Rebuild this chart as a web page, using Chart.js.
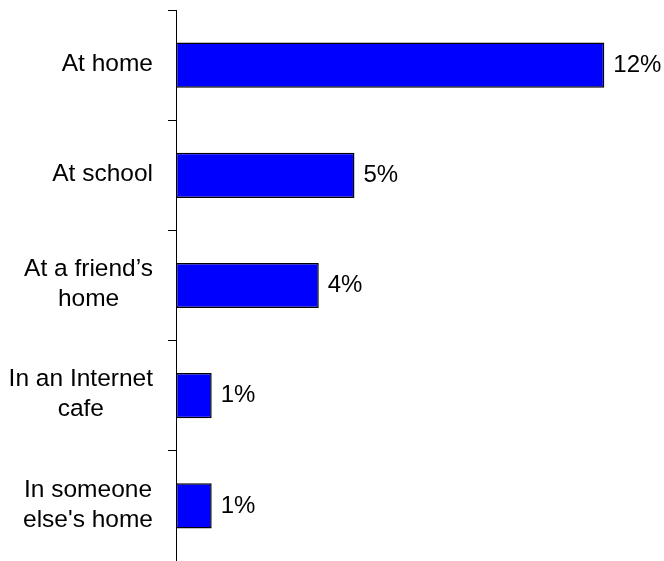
<!DOCTYPE html>
<html>
<head>
<meta charset="utf-8">
<title>Where kids go online</title>
<script src="https://cdn.jsdelivr.net/npm/chart.js@4.4.0/dist/chart.umd.min.js"></script>
<style>
    body { margin: 0; background: #fff; }
    #wrap { width: 664px; height: 561px; }
</style>
</head>
<body>
<div id="wrap"><canvas id="placesChart" width="664" height="561"></canvas></div>
<script>
// categories, one entry per line of the label
const places = [
    ['At home'],
    ['At school'],
    ['At a friend\u2019s', 'home'],
    ['In an Internet', 'cafe'],
    ['In someone', 'else\'s home']
]
const shares = [12, 5, 4, 1, 1]
const xRange = [0, 13]

const fontFamily = '"Liberation Sans", Arial, Helvetica, sans-serif'

// category names drawn left of the axis, each block right-aligned, lines centred in it
const placeLabels = {
    id: 'placeLabels',
    afterDraw(chart) {
        const ctx = chart.ctx
        const yScale = chart.scales.y
        const right = yScale.right - 23
        ctx.save()
        ctx.font = '24.5px ' + fontFamily
        ctx.fillStyle = '#000'
        ctx.textAlign = 'center'
        ctx.textBaseline = 'middle'
        places.forEach((lines, i) => {
            const widest = Math.max(...lines.map(l => ctx.measureText(l).width))
            const cx = right - widest / 2
            const y = yScale.getPixelForValue(i) - 1
            lines.forEach((line, j) => {
                ctx.fillText(line, cx, y + (j - (lines.length - 1) / 2) * 30)
            })
        })
        ctx.restore()
    }
}

// percentage next to the end of each bar
const valueLabels = {
    id: 'valueLabels',
    afterDatasetsDraw(chart) {
        const ctx = chart.ctx
        const meta = chart.getDatasetMeta(0)
        ctx.save()
        ctx.font = '24px ' + fontFamily
        ctx.fillStyle = '#000'
        ctx.textAlign = 'left'
        ctx.textBaseline = 'middle'
        meta.data.forEach((bar, i) => {
            ctx.fillText(shares[i] + '%', bar.x + 9, bar.y)
        })
        ctx.restore()
    }
}

new Chart(document.getElementById('placesChart'), {
    type: 'bar',
    data: {
        labels: places,
        datasets: [{
            data: shares,
            backgroundColor: '#0000ff',
            borderColor: '#000',
            borderWidth: 1.5,
            borderSkipped: false,
            barPercentage: 0.41,
            categoryPercentage: 1
        }]
    },
    options: {
        indexAxis: 'y',
        responsive: false,
        animation: false,
        devicePixelRatio: 1,
        layout: {
            padding: {top: 10, right: 24, bottom: 0, left: 0}
        },
        plugins: {
            legend: {display: false},
            tooltip: {enabled: false}
        },
        scales: {
            x: {
                display: false,
                min: xRange[0],
                max: xRange[1]
            },
            y: {
                offset: true,
                afterFit: scale => { scale.width = 176 },
                grid: {
                    offset: true,
                    drawOnChartArea: false,
                    drawTicks: true,
                    tickLength: 8,
                    color: '#000',
                    lineWidth: 1
                },
                border: {display: true, color: '#000', width: 1},
                ticks: {display: false}
            }
        }
    },
    plugins: [placeLabels, valueLabels]
})
</script>
</body>
</html>
